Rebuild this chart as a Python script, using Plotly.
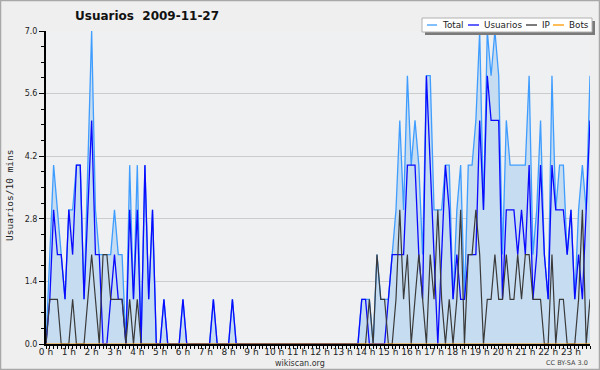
import plotly.graph_objects as go

# 10-minute slots over the day (minutes since 00:00)
slots = list(range(0, 1440, 10))
hour_ticks = list(range(0, 1440, 60))
hour_labels = [f"{h} h" for h in range(24)]

usuarios = [
    0, 1, 3, 2, 2, 1, 3, 2, 4, 4,
    1, 3, 5, 2, 2, 0, 0, 1, 2, 1,
    1, 0, 3, 1, 3, 0, 4, 1, 3, 0,
    0, 1, 0, 0, 0, 0, 1, 0, 0, 0,
    0, 0, 0, 0, 1, 0, 0, 0, 0, 1,
    0, 0, 0, 0, 0, 0, 0, 0, 0, 0,
    0, 0, 0, 0, 0, 0, 0, 0, 0, 0,
    0, 0, 0, 0, 0, 0, 0, 0, 0, 0,
    0, 0, 0, 1, 1, 0, 0, 0, 0, 0,
    1, 2, 2, 2, 2, 4, 4, 4, 2, 1,
    6, 4, 2, 0, 2, 4, 3, 1, 2, 1,
    1, 2, 2, 2, 5, 3, 6, 5, 5, 5,
    1, 3, 3, 3, 2, 3, 2, 4, 1, 2,
    4, 2, 1, 4, 3, 3, 3, 2, 3, 1,
    2, 1, 3, 5,
]

ip = [
    0, 1, 1, 1, 0, 0, 0, 1, 0, 0,
    0, 1, 2, 1, 0, 2, 2, 1, 1, 1,
    1, 0, 1, 0, 1, 0, 0, 0, 0, 0,
    0, 0, 0, 0, 0, 0, 0, 0, 0, 0,
    0, 0, 0, 0, 0, 0, 0, 0, 0, 0,
    0, 0, 0, 0, 0, 0, 0, 0, 0, 0,
    0, 0, 0, 0, 0, 0, 0, 0, 0, 0,
    0, 0, 0, 0, 0, 0, 0, 0, 0, 0,
    0, 0, 0, 0, 0, 1, 0, 2, 1, 1,
    0, 0, 1, 3, 1, 2, 0, 1, 2, 1,
    0, 2, 1, 3, 1, 0, 1, 0, 1, 3,
    0, 2, 2, 3, 2, 0, 1, 1, 2, 1,
    1, 2, 1, 1, 2, 1, 2, 2, 1, 1,
    1, 0, 0, 2, 0, 1, 1, 0, 0, 0,
    1, 3, 0, 1,
]

total = [
    0, 2, 4, 3, 2, 1, 3, 3, 4, 4,
    1, 4, 7, 3, 2, 2, 2, 2, 3, 2,
    2, 0, 4, 1, 4, 0, 4, 1, 3, 0,
    0, 1, 0, 0, 0, 0, 1, 0, 0, 0,
    0, 0, 0, 0, 1, 0, 0, 0, 0, 1,
    0, 0, 0, 0, 0, 0, 0, 0, 0, 0,
    0, 0, 0, 0, 0, 0, 0, 0, 0, 0,
    0, 0, 0, 0, 0, 0, 0, 0, 0, 0,
    0, 0, 0, 1, 1, 1, 0, 2, 1, 1,
    1, 2, 3, 5, 3, 6, 4, 5, 4, 2,
    6, 6, 3, 3, 3, 4, 4, 1, 3, 4,
    1, 4, 4, 5, 7, 3, 7, 6, 7, 6,
    2, 5, 4, 4, 4, 4, 4, 6, 2, 3,
    5, 2, 1, 6, 3, 4, 4, 2, 3, 1,
    3, 4, 3, 6,
]

bots = [0] * 144

y_ticks = [0, 1.4, 2.8, 4.2, 5.6, 7.0]
y_labels = ["0.0", "1.4", "2.8", "4.2", "5.6", "7.0"]

C_TOTAL = "#3f9dff"
C_USU = "#0a0aff"
C_IP = "#3a3a3a"
C_BOTS = "#ff9900"

fig = go.Figure()
fig.add_trace(go.Scatter(x=slots, y=total, name="Total", mode="lines",
                         line=dict(color=C_TOTAL, width=1.3),
                         fill="tozeroy", fillcolor="#c6dcf0"))
fig.add_trace(go.Scatter(x=slots, y=usuarios, name="Usuarios", mode="lines",
                         line=dict(color=C_USU, width=1.3)))
fig.add_trace(go.Scatter(x=slots, y=ip, name="IP", mode="lines",
                         line=dict(color=C_IP, width=1.2)))
fig.add_trace(go.Scatter(x=slots, y=bots, name="Bots", mode="lines",
                         line=dict(color=C_BOTS, width=1.2)))

L, R, T, B = 46, 10, 31, 26
W, H = 600, 370
PW, PH = W - L - R, H - T - B


def px(x):
    return (x - L) / PW


def py(y):
    return (H - B - y) / PH


shapes = [
    # outer frame
    dict(type="rect", xref="paper", yref="paper", x0=px(0.5), x1=px(599.5),
         y0=py(369.5), y1=py(0.5), line=dict(color="#a8a8a8", width=1.5),
         fillcolor="rgba(0,0,0,0)", layer="above"),
    # legend shadow
    dict(type="rect", xref="paper", yref="paper", x0=px(425), x1=px(595),
         y0=py(35), y1=py(21), line=dict(width=0), fillcolor="#7a7a7a",
         layer="above"),
    # legend box
    dict(type="rect", xref="paper", yref="paper", x0=px(422), x1=px(592),
         y0=py(32), y1=py(18), line=dict(color="#b0b0b0", width=1),
         fillcolor="#ffffff", layer="above"),
]

legend_items = [("Total", C_TOTAL, 427, 437, 440),
                ("Usuarios", C_USU, 468, 479, 482),
                ("IP", "#333333", 526, 537, 540),
                ("Bots", C_BOTS, 553, 564, 567)]
annotations = []
for name, col, lx0, lx1, tx in legend_items:
    shapes.append(dict(type="line", xref="paper", yref="paper",
                       x0=px(lx0), x1=px(lx1), y0=py(25), y1=py(25),
                       line=dict(color=col, width=1.3), layer="above"))
    annotations.append(dict(text=name, xref="paper", yref="paper",
                            x=px(tx), y=py(25), xanchor="left",
                            yanchor="middle", showarrow=False,
                            font=dict(size=8.8, color="#222222")))

annotations += [
    dict(text="Usuarios/10 mins", xref="paper", yref="paper", x=px(10),
         y=py(195), textangle=-90, showarrow=False, xanchor="center",
         yanchor="middle",
         font=dict(family="DejaVu Sans Mono", size=9.5, color="#222222")),
    dict(text="wikiscan.org", xref="paper", yref="paper", x=px(300),
         y=py(363), showarrow=False, xanchor="center", yanchor="middle",
         font=dict(size=8, color="#333333")),
    dict(text="CC BY-SA 3.0", xref="paper", yref="paper", x=px(590),
         y=py(363), showarrow=False, xanchor="right", yanchor="middle",
         font=dict(size=6.5, color="#444444")),
]

fig.update_layout(
    width=W, height=H,
    margin=dict(l=L, r=R, t=T, b=B, pad=0),
    paper_bgcolor="#efefef",
    plot_bgcolor="#eff0f2",
    font=dict(family="DejaVu Sans", color="#222222"),
    showlegend=False,
    title=dict(text="<b>Usuarios\u00a0\u00a02009-11-27</b>", xref="container",
               yref="container", x=75 / W, xanchor="left",
               y=1 - 16 / H, yanchor="middle",
               font=dict(size=12, color="#111111")),
    shapes=shapes,
    annotations=annotations,
    xaxis=dict(range=[0, 1430], tickmode="array", tickvals=hour_ticks,
               ticktext=hour_labels, ticks="outside", ticklen=3,
               tickwidth=1, tickcolor="#000000", ticklabelstandoff=-5,
               minor=dict(dtick=10, tick0=0, ticks="outside", ticklen=3,
                          tickwidth=1, tickcolor="#000000", showgrid=False),
               showline=True, linecolor="#000000", linewidth=2,
               showgrid=False, zeroline=False,
               tickfont=dict(size=9, color="#222222")),
    yaxis=dict(range=[0, 7], tickmode="array", tickvals=y_ticks,
               ticktext=y_labels, ticks="outside", ticklen=5, tickwidth=1,
               tickcolor="#000000",
               minor=dict(dtick=0.35, tick0=0, ticks="outside", ticklen=3,
                          tickwidth=1, tickcolor="#000000", showgrid=False),
               showline=True, linecolor="#000000", linewidth=2,
               showgrid=True, gridcolor="#cccccc", gridwidth=1,
               zeroline=False, tickfont=dict(size=8, color="#222222")),
)

fig.write_html("out.html")
